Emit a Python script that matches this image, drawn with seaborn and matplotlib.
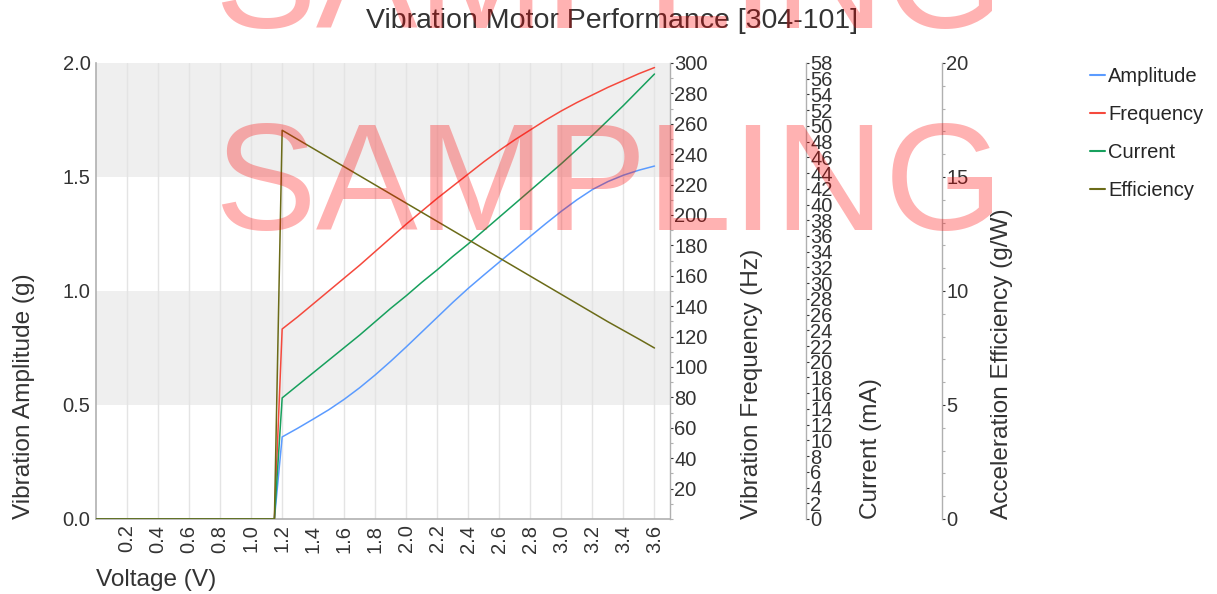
import matplotlib
matplotlib.use("Agg")
import matplotlib.pyplot as plt
from matplotlib.ticker import MultipleLocator, FixedLocator
from matplotlib.lines import Line2D
import seaborn as sns

# Data
voltage = [0.0, 0.1, 0.2, 0.3, 0.4, 0.5, 0.6, 0.7, 0.8, 0.9, 1.0, 1.1, 1.15,
           1.2, 1.3, 1.4, 1.5, 1.6, 1.7, 1.8, 1.9, 2.0, 2.1, 2.2, 2.3, 2.4,
           2.5, 2.6, 2.7, 2.8, 2.9, 3.0, 3.1, 3.2, 3.3, 3.4, 3.5, 3.6]
off = [0.0] * 13

amplitude = off + [0.36, 0.398, 0.438, 0.479, 0.525, 0.576, 0.632, 0.692,
                   0.755, 0.82, 0.885, 0.95, 1.012, 1.07, 1.127, 1.183, 1.24,
                   1.296, 1.35, 1.40, 1.445, 1.48, 1.508, 1.53, 1.548]
frequency = off + [125, 133, 141.5, 150, 158.5, 167, 176, 185, 194, 202.5,
                   211, 219, 227, 235, 242.5, 249.5, 256, 262.5, 268.5, 274,
                   279, 284, 288.5, 293, 297]
current = off + [15.4, 17.0, 18.6, 20.2, 21.8, 23.4, 25.1, 26.8, 28.4, 30.1,
                 31.7, 33.4, 35.0, 36.7, 38.4, 40.1, 41.8, 43.5, 45.2, 47.0,
                 48.8, 50.7, 52.6, 54.6, 56.6]
efficiency = off + [17.05, 16.65, 16.25, 15.85, 15.45, 15.05, 14.65, 14.25,
                    13.85, 13.45, 13.05, 12.65, 12.25, 11.85, 11.45, 11.05,
                    10.65, 10.25, 9.85, 9.45, 9.05, 8.65, 8.27, 7.89, 7.5]

series_names = ["Amplitude", "Frequency", "Current", "Efficiency"]
colors = ["#5B9BFF", "#F5493D", "#17A05D", "#6B6B18"]
x_ticks = [0.2, 0.4, 0.6, 0.8, 1.0, 1.2, 1.4, 1.6, 1.8, 2.0, 2.2, 2.4,
           2.6, 2.8, 3.0, 3.2, 3.4, 3.6]

sns.set_theme(style="white")
plt.rcParams["font.family"] = ["Liberation Sans", "DejaVu Sans"]

TXT = "#333333"
SPINE = "#b0b0b0"
TICK_FS = 14.5
LAB_FS = 17.6
PX = 72 / 100  # points per pixel at dpi 100

fig = plt.figure(figsize=(12.17, 5.94), dpi=100)
ax = fig.add_axes([96 / 1217, 1 - 519 / 594, (670 - 96) / 1217, (519 - 63) / 594])

# banded background
for lo, hi in [(0.5, 1.0), (1.5, 2.0)]:
    ax.axhspan(lo, hi, color="#efefef", zorder=0, lw=0)
for xt in x_ticks:
    ax.axvline(xt, color="#e4e4e4", lw=1, zorder=0.5)

sns.lineplot(x=voltage, y=amplitude, ax=ax, color=colors[0], lw=1.1)
ax.set_xlim(0, 3.7)
ax.set_ylim(0, 2.0)
ax.xaxis.set_major_locator(FixedLocator(x_ticks))
ax.set_xticklabels([f"{t:.1f}" for t in x_ticks], rotation=90)
ax.yaxis.set_major_locator(FixedLocator([0, 0.5, 1.0, 1.5, 2.0]))
ax.set_yticklabels(["0.0", "0.5", "1.0", "1.5", "2.0"])
ax.tick_params(axis="both", labelsize=TICK_FS, colors=TXT, length=0, pad=4)
ax.set_xlabel("Voltage (V)", fontsize=LAB_FS, color=TXT, loc="left", labelpad=12)
ax.set_ylabel("Vibration Amplitude (g)", fontsize=LAB_FS, color=TXT, loc="bottom", labelpad=20)
for s in ["top", "right"]:
    ax.spines[s].set_visible(False)
for s in ["left", "bottom"]:
    ax.spines[s].set_color(SPINE)
    ax.spines[s].set_linewidth(1.2)

# label, values, limits, ticks, minor step, spine offset (px), label pad (pt)
twin_specs = [
    ("Vibration Frequency (Hz)", frequency, (0, 300), list(range(20, 301, 20)), 10, 0, 24),
    ("Current (mA)", current, (0, 58), list(range(0, 59, 2)), None, 136, 20),
    ("Acceleration Efficiency (g/W)", efficiency, (0, 20), [0, 5, 10, 15, 20], 1, 272, 16),
]
for i, (label, values, lim, ticks, minor, offset, lpad) in enumerate(twin_specs):
    tw = ax.twinx()
    sns.lineplot(x=voltage, y=values, ax=tw, color=colors[i + 1], lw=1.1)
    tw.set_ylim(*lim)
    tw.yaxis.set_major_locator(FixedLocator(ticks))
    if minor:
        tw.yaxis.set_minor_locator(MultipleLocator(minor))
    tw.spines["right"].set_position(("outward", offset * PX))
    tw.spines["right"].set_color(SPINE)
    tw.spines["right"].set_linewidth(1.0)
    for s in ["top", "left", "bottom"]:
        tw.spines[s].set_visible(False)
    tw.tick_params(axis="y", which="major", labelsize=TICK_FS, colors=TXT,
                   length=2, width=0.8, pad=1)
    tw.tick_params(axis="y", which="minor", length=2, width=0.8, color=SPINE)
    for t in tw.yaxis.get_major_ticks():
        t.tick2line.set_color(SPINE)
    tw.set_ylabel(label, fontsize=LAB_FS, color=TXT, loc="bottom", labelpad=lpad)

fig.text(0.503, 1 - 21 / 594, "Vibration Motor Performance [304-101]",
         ha="center", va="center", fontsize=20.5, color=TXT)

handles = [Line2D([], [], color=c, lw=1.5) for c in colors]
fig.legend(handles, series_names, loc="upper left",
           bbox_to_anchor=(1090 / 1217, 1 - 67 / 594), frameon=False,
           fontsize=14.5, handlelength=0.75, handletextpad=0.15,
           labelspacing=0.95, borderpad=0, borderaxespad=0)

# watermark
for base in [28, 230]:
    fig.text(0.5, 1 - base / 594, "SAMPLING", ha="center", va="baseline",
             fontsize=110, color="#ff0000", alpha=0.3, zorder=10)

fig.savefig("out.png", dpi=100)
